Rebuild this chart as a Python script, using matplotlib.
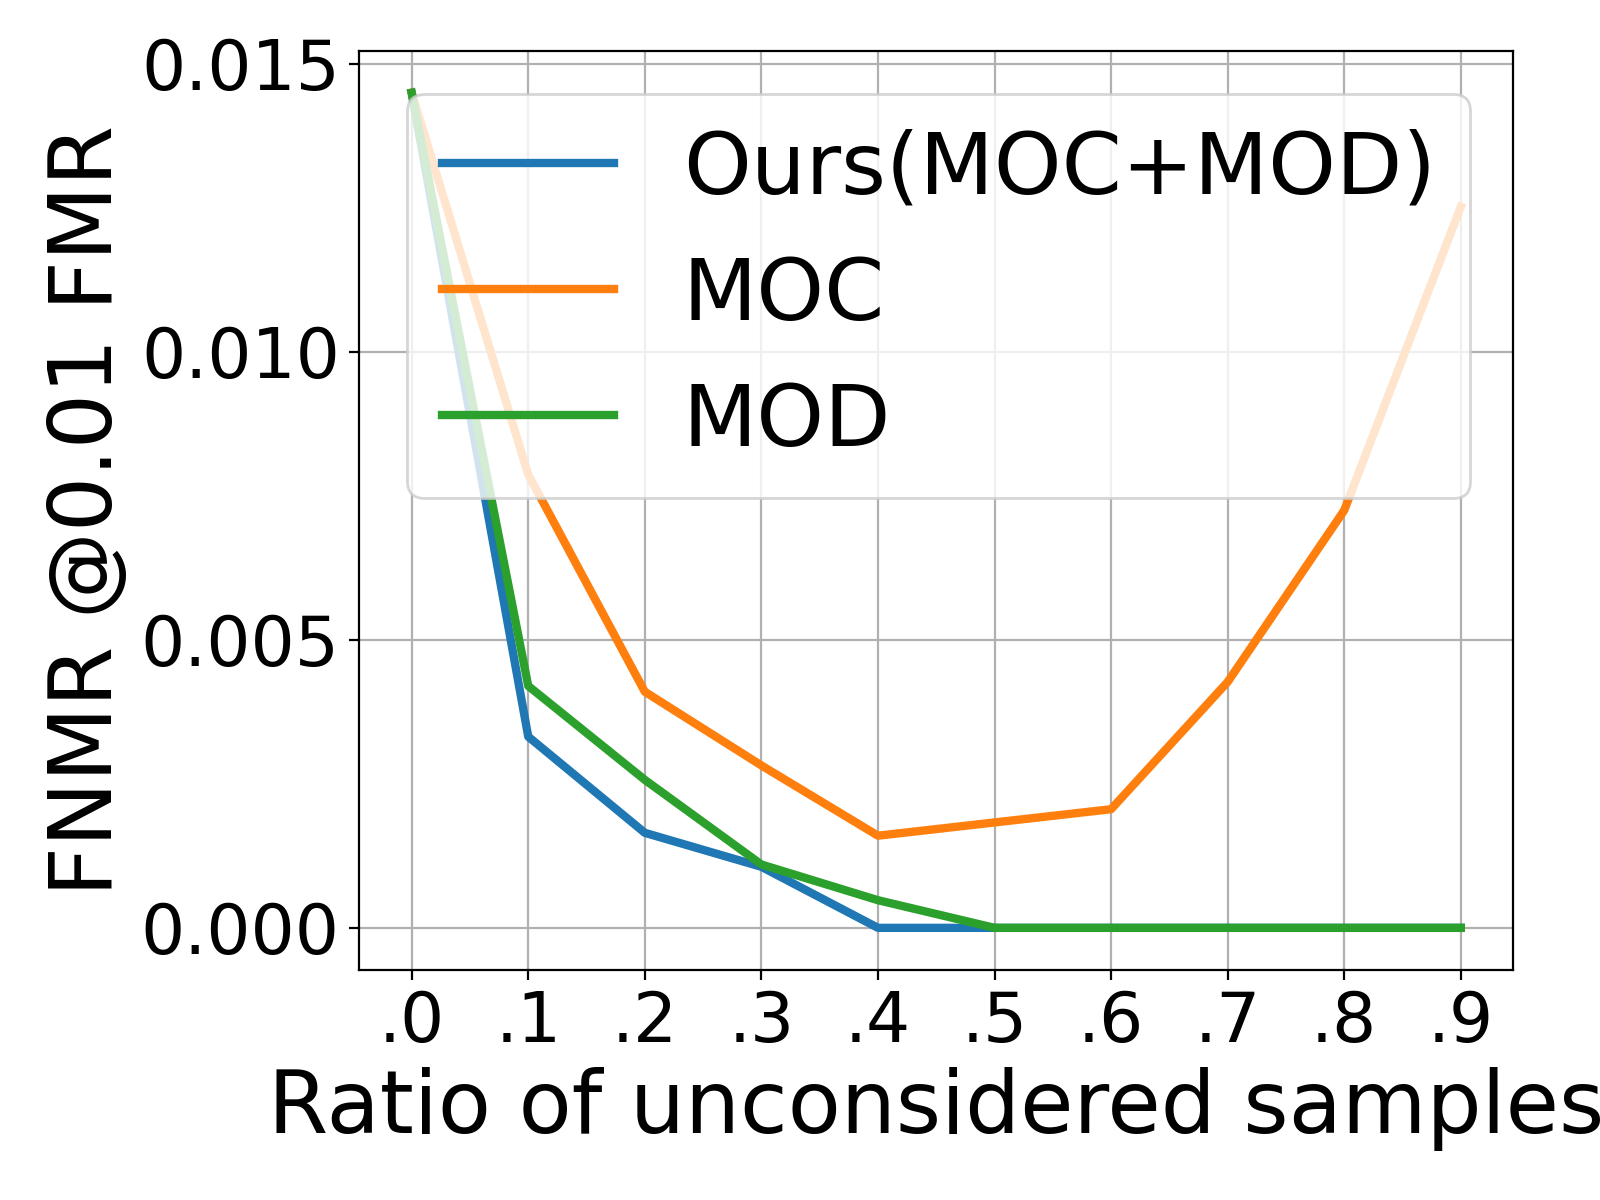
import matplotlib
matplotlib.use("Agg")
import matplotlib.pyplot as plt

ratios = [0.0, 0.1, 0.2, 0.3, 0.4, 0.5, 0.6, 0.7, 0.8, 0.9]
tick_labels = [".0", ".1", ".2", ".3", ".4", ".5", ".6", ".7", ".8", ".9"]

ours = [0.0145, 0.00332, 0.00165, 0.00106, 0.0, 0.0, 0.0, 0.0, 0.0, 0.0]
moc = [0.0145, 0.00787, 0.0041, 0.00282, 0.0016, 0.00183, 0.00206, 0.00427, 0.00725, 0.01252]
mod = [0.0145, 0.0042, 0.00257, 0.0011, 0.00048, 0.0, 0.0, 0.0, 0.0, 0.0]

fig = plt.figure(figsize=(8, 6), dpi=200)
ax = fig.add_axes([0.2245, 0.192, 0.7213, 0.7655])

ax.plot(ratios, ours, linewidth=3, label="Ours(MOC+MOD)")
ax.plot(ratios, moc, linewidth=3, label="MOC")
ax.plot(ratios, mod, linewidth=3, label="MOD")

ax.set_xticks(ratios)
ax.set_xticklabels(tick_labels)
ax.set_yticks([0.0, 0.005, 0.010, 0.015])
ax.set_yticklabels(["0.000", "0.005", "0.010", "0.015"])
ax.tick_params(labelsize=25)
ax.grid(True)

# the x label runs past the right edge in the original too
ax.set_xlabel("Ratio of unconsidered samples", fontsize=31.3)
ax.set_ylabel("FNMR @0.01 FMR", fontsize=31.3)
ax.legend(fontsize=31, loc="upper right")

fig.savefig("out.png", dpi=200)
